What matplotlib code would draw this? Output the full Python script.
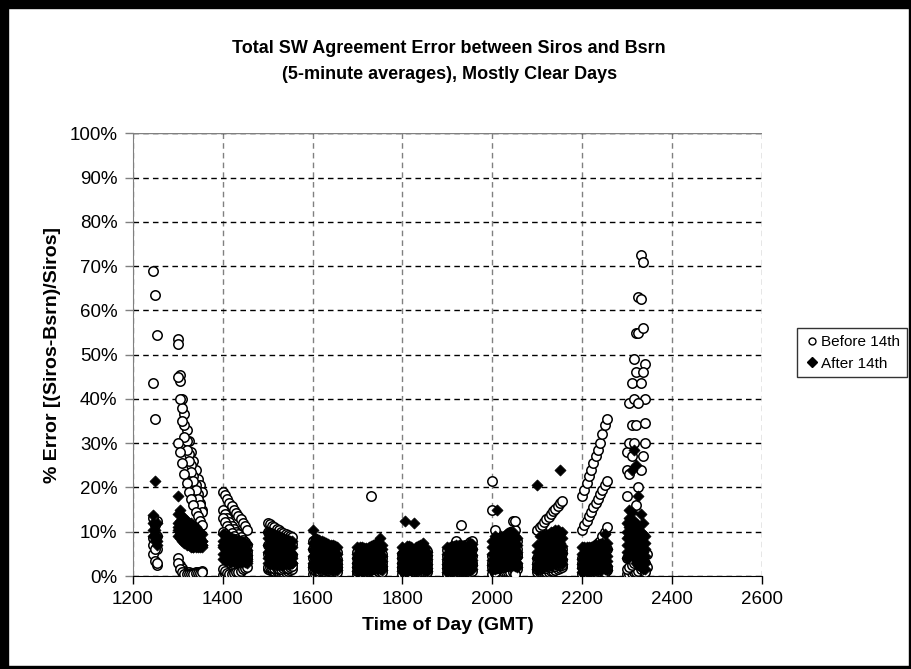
import matplotlib.pyplot as plt
import numpy as np
from matplotlib.lines import Line2D

plt.rcParams['font.family'] = ['Liberation Sans', 'DejaVu Sans']

# x positions: HHMM stamps, 5-minute steps
HOURS = [12, 13, 14, 15, 16, 17, 18, 19, 20, 21, 22, 23]
MINUTES = [0, 5, 10, 15, 20, 25, 30, 35, 40, 45, 50, 55]

# one block per day, one line per hour, '.' = no data
BEFORE_DAYS = [
"""
.    .    .    .    .    .    .    .    .    69   63.5 54.5
53.5 45.5 40   36.5 33   30.5 28   26   24   22   20.5 19
19   18.2 17.5 16.5 15.8 15   14.2 13.5 12.8 12   11.2 10.5
12   11.7 11.3 11   10.6 10.3 10   9.7  9.4  9.2  9    8.8
8    7.6  7.3  7    6.8  6.6  6.4  6.2  6    5.8  5.6  5.5
5.5  5.3  5.1  5    4.9  4.8  18   4.8  4.7  4.7  4.8  4.9
5    5    5    5    5    5    5.1  5.2  5.3  5.4  5.5  5.6
5.8  5.9  6    6.1  8    6.4  11.5 6.8  7    7.3  7.6  8
21.5 10.5 8.5  8    8    8.5  9    9.5  10   12.5 10.5 8
10.5 11   11.6 12.2 12.8 13.4 14   14.6 15.2 15.8 16.5 17
18   19.5 21   22.5 24   25.5 27   28.5 30   32   34   35.5
28   39   43.5 49   55   63   72.5 71   48   .    .    .
""",
"""
.    .    .    .    .    .    .    .    .    43.5 35.5 12.5
52.5 44   38   34   30.5 27.5 25   22.5 20.5 18.5 16.5 15
15   14   13   12.2 11.4 10.6 10   9.4  8.8  8.2  7.6  7
10   9.7  9.4  9.1  8.8  8.5  8.2  8    7.8  7.6  7.4  7.2
6    5.8  5.6  5.4  5.2  5    4.8  4.6  4.4  4.2  4    3.8
4    3.9  3.8  3.7  3.6  3.5  3.5  3.5  3.6  3.7  3.8  4
4    4    4    4    4    4    4    4.1  4.2  4.3  4.4  4.5
4.5  4.6  4.7  4.8  4.9  5    5.2  5.4  5.6  5.8  6    6.2
15   6    6.2  6.4  6.6  6.8  7    7.2  7.5  8    7    6
4    4.2  4.4  4.6  4.8  5    5.2  5.4  5.6  5.8  6    6.2
10.5 11.5 12.5 13.5 14.5 15.5 16.5 17.5 18.5 19.5 20.5 21.5
24   30   34   40   46   55   62.5 56   40   .    .    .
""",
"""
.    .    .    .    .    .    .    .    .    13   11.5 9
45   40   35   31.5 28.5 26   23.5 21.5 19.5 17.5 16   14.5
13   12.2 11.4 10.6 9.8  9    8.4  7.8  7.2  6.6  6    5.5
7    6.8  6.6  6.4  6.2  6    5.8  5.6  5.4  5.2  5    4.8
4    3.9  3.8  3.7  3.6  3.5  3.4  3.3  3.2  3.1  3    3
3    3    2.9  2.8  2.7  2.6  2.6  2.6  2.7  2.8  2.9  3
3    3    3    3    3    3    3    3    3.1  3.2  3.3  3.4
3.5  3.6  3.7  3.8  3.9  4    4.1  4.2  4.3  4.4  4.5  4.6
4.5  4.6  4.7  4.8  4.9  5    5.1  5.2  5.3  5.4  12.5 5
3    3.2  3.4  3.6  3.8  4    4.2  4.4  4.6  4.8  5    5.2
4    4.5  5    5.5  6    6.5  7    7.5  8    9    10   11
18   23   27   30   34   39   43.5 46   34.5 .    .    .
""",
"""
.    .    .    .    .    .    .    .    .    8.5  7    6
30   28   25.5 23   21   19   17.5 16   14.5 13.5 12.5 11.5
10   9.5  9    8.5  8    7.5  7    6.5  6    5.5  5    4.5
5    4.8  4.6  4.4  4.2  4    3.8  3.6  3.4  3.2  3    2.8
2.5  2.4  2.3  2.2  2.1  2    2    2    2    2    2    2
2    2    2.1  2.2  2.2  2.3  2.3  2.2  2.2  2.1  2    2
2    2    2    2.1  2.1  2.2  2.2  2.3  2.3  2.4  2.4  2.5
2.5  2.5  2.6  2.6  2.7  2.7  2.8  2.8  2.9  3    3    3
3    3    3.1  3.2  3.3  3.4  3.5  3.6  3.8  4    4.2  4.5
2    2.1  2.2  2.3  2.4  2.5  2.6  2.8  3    3.2  3.4  3.6
3    3.2  3.4  3.6  3.8  4    4.2  4.5  4.8  5    5.5  6
4    5    8    12   16   20   24   27   30   5    .    .
""",
"""
.    .    .    .    .    .    .    .    .    5    3.5  2.5
4    2.5  1.8  1.2  1    0.8  0.7  0.7  0.8  0.9  1    1.1
0.3  0.5  0.8  1    1.3  1.6  2    2.4  2.8  3.2  3.6  4
1.5  1.4  1.3  1.2  1.1  1    1    1    1    1.2  1.4  1.6
0.5  0.5  0.6  0.7  0.8  0.9  1    1.1  1.2  1.3  1.5  1.8
0.5  0.6  0.7  0.8  0.9  1    1    1    1    1.2  1.4  1.5
0.5  0.5  0.5  0.6  0.7  0.8  0.9  1    1    1    1    1
0.5  0.5  0.5  0.6  0.7  0.8  0.9  1    1    1    1    1.2
0.5  0.6  0.7  0.8  0.9  1    1    1    1    1    1.2  1.5
0.8  0.8  0.9  1    1    1    1.1  1.2  1.3  1.5  1.8  2
0.5  0.6  0.7  0.8  0.9  1    1    1.2  1.5  1.5  1.6  1.4
0.5  0.5  0.6  0.8  1    1.2  1.5  2    3    2    .    .
""",
"""
.    .    .    .    .    .    .    .    .    7    6    3
3    1.5  1    0.5  0.4  0.4  0.5  0.5  0.6  0.6  0.7  0.8
1.5  1.2  0.6  0.4  0.5  0.6  0.8  1    1.2  1.5  1.8  2
2    2    1.9  1.8  1.7  1.6  1.6  1.7  1.8  1.9  2    2.2
1.5  1.4  1.3  1.2  1.2  1.2  1.3  1.4  1.5  1.6  1.8  1
1.2  1.3  1.4  1.5  1.5  1.5  1.6  1.7  1.8  1.9  2    0.8
1.5  1.5  1.6  1.6  1.7  1.7  1.8  1.8  1.9  2    2    1.5
1.5  1.6  1.7  1.8  1.8  1.9  2    2    2.1  2.2  2.3  2.4
2    0.8  1.8  1.9  2    2.1  2.2  2.3  2.4  2.5  0.5  2.5
1.5  1.6  1.7  1.8  1.9  2    2.1  2.2  2.3  2.4  2.5  2.5
2    2.1  2.2  2.3  2.4  2.5  2.6  2.7  2.8  3    1    2
1.5  2    2.5  3    4    5    3.5  4    1    .    .    .
""",
]

AFTER_DAYS = [
"""
.    .    .    .    .    .    .    .    .    13.7 21.5 12
18   15   13.5 13   12.5 12   12   11.5 11   10.5 10   9.5
9.5  9.3  9    8.8  8.6  8.4  8.2  8    7.8  7.6  7.4  7.2
10   9.8  9.6  9.4  9.2  9    8.8  8.6  8.4  8.2  8    7.8
10.5 8.5  8.3  8.1  7.9  7.7  7.5  7.3  7.1  6.9  6.7  6.5
6.5  6.6  6.5  6.4  6.3  6.5  6.8  7    7.2  7.5  8.5  7
6.5  12.5 6.8  6.7  6.6  12   6.5  6.8  7    7.5  6.5  5.5
6.5  6.6  6.7  6.8  6.9  7    7    6.8  6.6  6.5  7.5  7.3
8    9    15   8.5  9    9    9.5  9.5  10   10   9    8.5
20.5 9    9    9    9.5  9.5  10   10   10.5 10.5 24   10
6.5  6.5  6.5  6.5  6.5  6.8  7    7    7.2  7.5  9.5  7.5
12   15   24   28.5 25   18   14   12   9    .    .    .
""",
"""
.    .    .    .    .    .    .    .    .    12   10.5 9
14   12.5 12   11.5 11   10.5 10.5 10   9.5  9    8.5  8
8    7.8  7.5  7.3  7.1  7    6.8  6.6  6.4  6.2  6    5.8
8.5  8.3  8.1  7.9  7.7  7.5  7.3  7.1  6.9  6.7  6.5  6.5
7.5  7    6.8  6.6  6.4  6.2  6    5.8  5.6  5.4  5.2  5
5    5.2  5.4  5.6  5.5  5.4  5.6  5.8  6    6.2  6.4  6
5.2  5.4  5.5  5.5  5.6  5.6  5.7  5.8  6    6.2  5.5  4.8
5    5.2  5.4  5.6  5.8  5.8  5.6  5.5  5.4  5.5  6    6.2
6.5  6.8  7    7.2  7.5  7.5  7.8  8    8.2  8    7.5  7
7    7.2  7.4  7.6  7.8  8    8.2  8.5  8.8  9    9.5  8.5
5    5.2  5.4  5.6  5.5  5.4  5.6  5.8  6    6.2  6.4  6
10   13   14.5 12.5 11.5 10.5 10   9.5  7.5  .    .    .
""",
"""
.    .    .    .    .    .    .    .    .    10.5 9    8
12   11   10.5 10   9.5  9    9    8.5  8    7.8  7.5  7
6.5  6.4  6.2  6    5.8  5.6  5.5  5.4  5.3  5.2  5    4.8
7    6.8  6.6  6.4  6.2  6    5.8  5.6  5.4  5.2  5    5
6    5.6  5.4  5.2  5    4.8  4.6  4.4  4.2  4    3.8  3.6
4    4.2  4.4  4.4  4.3  4.2  4.4  4.6  4.8  5    5    4.6
4    4.2  4.3  4.3  4.4  4.4  4.5  4.6  4.8  5    4.5  3.8
3.8  4    4.2  4.4  4.5  4.5  4.4  4.3  4.2  4.3  4.6  4.8
5    5.2  5.4  5.6  5.8  6    6.2  6.4  6.6  6.5  6    5.5
5.5  5.6  5.8  6    6.2  6.4  6.6  6.8  7    7.2  7.4  6.8
3.8  4    4.2  4.4  4.3  4.2  4.4  4.6  4.8  5    5    4.6
8.5  11   12   10   9    8.5  8    7.5  6    .    .    .
""",
"""
.    .    .    .    .    .    .    .    .    9    8    7
10.5 9.5  9    8.5  8    8    7.5  7.2  7    6.8  6.5  6.5
5    5    4.8  4.7  4.6  4.5  4.4  4.3  4.2  4.1  4    3.9
5.5  5.4  5.3  5.2  5.1  5    4.8  4.6  4.4  4.2  4    4
4.5  4.3  4.1  4    3.8  3.6  3.4  3.2  3.1  3    2.8  2.6
3    3.1  3.2  3.3  3.2  3.1  3.3  3.5  3.6  3.8  3.7  3.4
3    3.1  3.2  3.2  3.3  3.3  3.4  3.5  3.6  3.8  3.4  2.8
2.8  3    3.1  3.2  3.3  3.3  3.2  3.2  3.1  3.2  3.4  3.6
3.6  3.8  4    4.2  4.4  4.6  4.8  5    5.1  5    4.6  4.2
4    4.2  4.4  4.6  4.8  5    5.2  5.4  5.5  5.6  5.8  5.2
2.8  3    3.1  3.2  3.2  3.1  3.3  3.5  3.6  3.8  3.7  3.4
7    9    9.5  8    7    6.5  6    5.5  4.5  .    .    .
""",
"""
.    .    .    .    .    .    .    .    .    .    .    .
9    8.5  8    7.5  7    7    6.8  6.5  6.5  6.5  6.8  7
3.8  3.7  3.6  3.5  3.4  3.3  3.2  3.2  3.2  3.3  3.4  3.5
4    3.9  3.8  3.7  3.6  3.5  3.4  3.3  3.2  3.1  3    3
3    2.9  2.8  2.7  2.6  2.5  2.4  2.3  2.2  2.1  2    2
2    2.1  2.2  2.2  2.2  2.1  2.2  2.3  2.4  2.5  2.4  2.2
2    2.1  2.1  2.2  2.2  2.2  2.3  2.4  2.4  2.5  2.3  1.8
1.8  1.9  2    2.1  2.2  2.2  2.1  2.1  2    2.1  2.3  2.5
2.4  2.6  2.8  3    3.2  3.4  3.5  3.6  3.7  3.6  3.3  3
2.8  3    3.1  3.2  3.4  3.5  3.7  3.9  4    4.1  4.2  3.8
1.8  1.9  2    2.1  2.1  2    2.2  2.3  2.4  2.5  2.4  2.2
5.5  7    7.5  6    5    4.5  4    3.5  3    .    .    .
""",
"""
.    .    .    .    .    .    .    .    .    .    .    .
11   10   9    8    7.5  7    6.5  6.6  6.8  7    7.5  8
7    6    5.5  5    4.5  4.2  4    3.8  3.6  3.4  3.2  3
3    2.8  2.6  2.5  2.5  2.5  2.5  2.5  2.6  2.7  2.8  3
2    1.9  1.8  1.7  1.6  1.5  1.5  1.5  1.5  1.5  1.4  1.4
1.2  1.3  1.3  1.4  1.4  1.3  1.4  1.5  1.6  1.7  1.6  1.4
1.1  1.2  1.2  1.3  1.3  1.3  1.4  1.4  1.5  1.5  1.4  1.1
1    1.1  1.2  1.2  1.3  1.3  1.3  1.2  1.2  1.3  1.4  1.5
1.4  1.5  1.7  1.9  2.1  2.2  2.3  2.4  2.5  2.4  2.2  2
1.6  1.8  2    2.1  2.2  2.4  2.5  2.7  2.8  2.9  3    2.6
1    1.1  1.2  1.3  1.3  1.2  1.3  1.4  1.5  1.6  1.5  1.3
4    5    5.5  4    3    2.5  2    1.5  1.5  .    .    .
""",
]


def parse_day(block):
    vals = []
    for line in block.strip().splitlines():
        tokens = line.split()
        vals += [np.nan if t == '.' else float(t) for t in tokens]
    return np.array(vals)


times = np.array([h * 100 + m for h in HOURS for m in MINUTES])

fig = plt.figure(figsize=(9.11, 6.69), dpi=100)
ax = fig.add_axes([0.1457, 0.139, 0.6908, 0.6617])

for block in BEFORE_DAYS:
    vals = parse_day(block)
    ax.scatter(times, vals, marker='o', s=46, facecolors='white',
               edgecolors='black', linewidths=1.1, zorder=3)
for block in AFTER_DAYS:
    vals = parse_day(block)
    ax.scatter(times, vals, marker='D', s=32, facecolors='black',
               edgecolors='black', linewidths=0.5, zorder=4)

ax.set_xlim(1200, 2600)
ax.set_ylim(0, 100)
ax.set_xticks(range(1200, 2601, 200))
ax.set_yticks(range(0, 101, 10))
ax.set_yticklabels([f'{v}%' for v in range(0, 101, 10)])
ax.tick_params(labelsize=13.5, length=6, width=1, colors='black', pad=5)
ax.tick_params(axis='y', color='#808080')

ax.yaxis.grid(True, linestyle=(0, (4, 3)), color='black', linewidth=1)
ax.xaxis.grid(True, linestyle=(0, (4, 3)), color='#808080', linewidth=1)
ax.set_axisbelow(True)
for side in ['top', 'right']:
    ax.spines[side].set_visible(False)
ax.spines['left'].set_color('#808080')
ax.spines['bottom'].set_color('black')
ax.axhline(100, color='#808080', linewidth=1, zorder=1)

ax.set_xlabel('Time of Day (GMT)', fontsize=14, fontweight='bold', labelpad=6)
ax.set_ylabel('% Error [(Siros-Bsrn)/Siros]', fontsize=14, fontweight='bold',
              labelpad=6)
fig.text(0.493, 0.908, 'Total SW Agreement Error between Siros and Bsrn\n'
         '(5-minute averages), Mostly Clear Days', ha='center', va='center',
         fontsize=13, fontweight='bold', linespacing=1.7)

handles = [
    Line2D([], [], marker='o', linestyle='none', markersize=5,
           markerfacecolor='white', markeredgecolor='black', markeredgewidth=1),
    Line2D([], [], marker='D', linestyle='none', markersize=5,
           markerfacecolor='black', markeredgecolor='black'),
]
leg = fig.legend(handles, ['Before 14th', 'After 14th'], loc='upper left',
                 bbox_to_anchor=(797 / 911, 1 - 328 / 669), fontsize=11,
                 frameon=True, fancybox=False, borderaxespad=0,
                 handletextpad=0.1, handlelength=1.0, borderpad=0.45,
                 labelspacing=0.5)
leg.get_frame().set_edgecolor('black')
leg.get_frame().set_linewidth(1)

# black page frame
fig.patches.append(plt.Rectangle((0, 0), 8 / 911, 1, transform=fig.transFigure,
                                 color='black', zorder=10))
fig.patches.append(plt.Rectangle((0, 1 - 8 / 669), 1, 8 / 669,
                                 transform=fig.transFigure, color='black', zorder=10))
fig.patches.append(plt.Rectangle((1 - 2 / 911, 0), 2 / 911, 1,
                                 transform=fig.transFigure, color='black', zorder=10))
fig.patches.append(plt.Rectangle((0, 0), 1, 3 / 669, transform=fig.transFigure,
                                 color='black', zorder=10))

fig.savefig('out.png', dpi=100)
